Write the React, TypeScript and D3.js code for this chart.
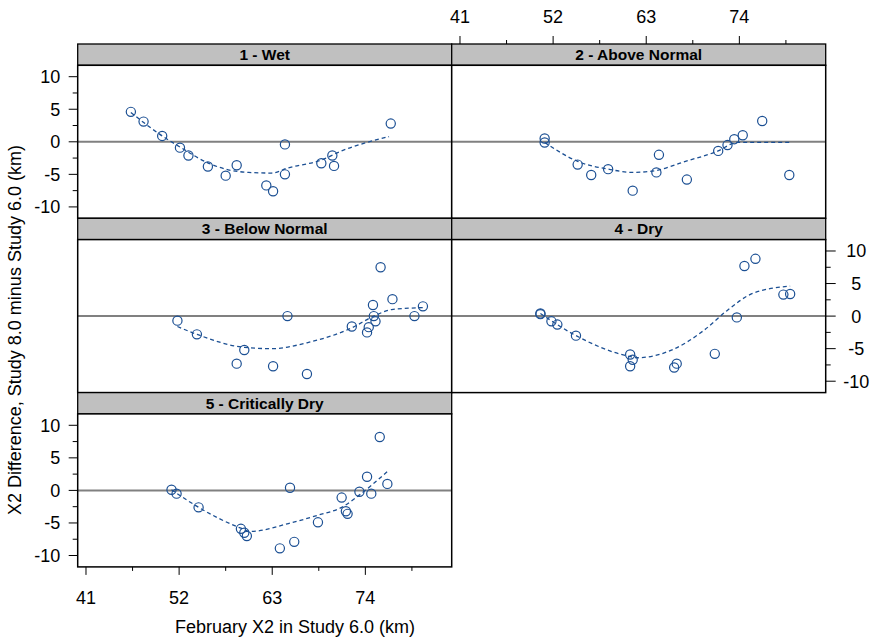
import React from "react";
import * as d3 from "d3";

const panelTitles = ["1 - Wet", "2 - Above Normal", "3 - Below Normal", "4 - Dry", "5 - Critically Dry"];

const wetX = [46.3, 47.8, 50.0, 52.1, 53.1, 55.4, 57.5, 58.8, 62.3, 63.1, 64.5, 64.5, 68.8, 70.1, 70.3, 77.0];
const wetY = [4.6, 3.1, 0.9, -0.9, -2.1, -3.8, -5.2, -3.6, -6.7, -7.6, -0.4, -5.0, -3.3, -2.1, -3.7, 2.8];
const wetFitX = [46.3, 50.0, 52.1, 55.5, 57.8, 60.2, 62.9, 64.9, 68.8, 71.2, 76.8];
const wetFitY = [4.5, 0.9, -0.8, -3.3, -4.3, -4.7, -4.8, -4.0, -2.8, -1.4, 0.8];

const aboveX = [51.0, 51.0, 54.9, 56.5, 58.5, 61.4, 64.2, 64.5, 67.8, 71.5, 72.6, 73.4, 74.4, 76.7, 79.9];
const aboveY = [0.5, -0.1, -3.5, -5.1, -4.2, -7.5, -4.7, -2.0, -5.8, -1.4, -0.5, 0.4, 1.0, 3.2, -5.1];
const aboveFitX = [51.0, 54.9, 58.5, 61.4, 64.2, 67.4, 71.5, 73.7, 79.9];
const aboveFitY = [-0.1, -3.0, -4.2, -4.7, -4.4, -3.1, -1.4, -0.1, -0.1];

const belowX = [51.8, 54.1, 58.8, 59.7, 63.1, 64.8, 67.1, 72.4, 74.2, 74.4, 75.0, 75.2, 74.9, 75.8, 77.2, 79.8, 80.8];
const belowY = [-0.7, -2.8, -7.3, -5.2, -7.7, 0.0, -8.9, -1.6, -2.5, -1.7, 0.0, -0.8, 1.7, 7.5, 2.6, 0.0, 1.5];
const belowFitX = [51.8, 54.1, 59.7, 63.0, 67.1, 72.4, 75.0, 77.1, 80.8];
const belowFitY = [-1.6, -2.8, -4.8, -5.0, -4.1, -1.8, 0.0, 1.0, 1.3];

const dryX = [50.5, 50.5, 51.8, 52.5, 54.7, 61.1, 61.4, 61.1, 66.3, 66.6, 71.1, 73.7, 74.6, 75.9, 79.2, 80.0];
const dryY = [0.4, 0.3, -0.8, -1.3, -3.0, -5.9, -6.7, -7.7, -7.9, -7.3, -5.8, -0.2, 7.7, 8.8, 3.3, 3.4];
const dryFitX = [50.5, 54.7, 60.7, 61.9, 66.2, 69.7, 72.5, 75.6, 80.0];
const dryFitY = [0.4, -3.0, -6.1, -6.4, -5.1, -2.3, 0.8, 3.5, 4.6];

const critX = [51.1, 51.7, 54.3, 59.3, 59.7, 60.0, 63.9, 65.1, 65.6, 68.4, 71.2, 71.7, 71.9, 73.3, 74.2, 74.7, 75.7, 76.6];
const critY = [0.1, -0.5, -2.6, -5.9, -6.5, -7.0, -8.9, 0.4, -7.9, -4.9, -1.1, -3.2, -3.6, -0.2, 2.1, -0.5, 8.2, 1.0];
const critFitX = [51.1, 54.3, 59.3, 60.4, 64.9, 68.4, 71.2, 73.2, 76.6];
const critFitY = [0.1, -2.6, -5.8, -6.3, -5.1, -3.8, -2.6, -0.8, 2.9];

const xMajorTicks = [41, 52, 63, 74];
const xMinorTicks = [46.5, 57.5, 68.5, 79.5];
const yMajorTicks = [-10, -5, 0, 5, 10];
const yMinorTicks = [-7.5, -2.5, 2.5, 7.5];

const panelsData = [
  { xs: wetX, ys: wetY, fx: wetFitX, fy: wetFitY },
  { xs: aboveX, ys: aboveY, fx: aboveFitX, fy: aboveFitY },
  { xs: belowX, ys: belowY, fx: belowFitX, fy: belowFitY },
  { xs: dryX, ys: dryY, fx: dryFitX, fy: dryFitY },
  { xs: critX, ys: critY, fx: critFitX, fy: critFitY },
];

const LEFT = 77.7;
const TOP = 44;
const PW = 374;
const STRIP = 21.3;
const PH = 153;
const ROWH = STRIP + PH;
const BLUE = "#1b4f93";
const FONT = "'Liberation Sans', Arial, sans-serif";
const FS = 18;

export default function App() {
  const x = d3.scaleLinear().domain([40.02, 84.2]).range([0, PW]);
  const y = d3.scaleLinear().domain([-11.75, 11.75]).range([PH, 0]);
  const line = d3
    .line<[number, number]>()
    .x((d) => x(d[0]))
    .y((d) => y(d[1]))
    .curve(d3.curveMonotoneX);

  const panels = panelsData.map((pd, i) => {
    const col = i % 2;
    const row = Math.floor(i / 2);
    const px = LEFT + col * PW;
    const py = TOP + row * ROWH;
    const fitPts: [number, number][] = pd.fx.map((v, k) => [v, pd.fy[k]]);
    return (
      <g key={i} transform={`translate(${px},${py})`}>
        <rect x={0} y={0} width={PW} height={STRIP} fill="#c0c0c0" stroke="#000" strokeWidth={1.3} />
        <text
          x={PW / 2}
          y={STRIP / 2 + 5.5}
          textAnchor="middle"
          fontFamily={FONT}
          fontWeight="bold"
          fontSize={15.5}
          fill="#000"
        >
          {panelTitles[i]}
        </text>
        <g transform={`translate(0,${STRIP})`}>
          <rect x={0} y={0} width={PW} height={PH} fill="#fff" />
          <line x1={0} x2={PW} y1={y(0)} y2={y(0)} stroke="#808080" strokeWidth={2} />
          <path d={line(fitPts) || ""} fill="none" stroke={BLUE} strokeWidth={1.3} strokeDasharray="4,3" />
          {pd.xs.map((v, k) => (
            <circle key={k} cx={x(v)} cy={y(pd.ys[k])} r={4.6} fill="none" stroke={BLUE} strokeWidth={1.2} />
          ))}
          <rect x={0} y={0} width={PW} height={PH} fill="none" stroke="#000" strokeWidth={1.5} />
          {(i === 0 || i === 4) && (
            <g>
              {yMajorTicks.map((t) => (
                <g key={t}>
                  <line x1={-9} x2={0} y1={y(t)} y2={y(t)} stroke="#000" strokeWidth={1} />
                  <text x={-17.5} y={y(t) + 6.5} textAnchor="end" fontFamily={FONT} fontSize={FS} fill="#000">
                    {t}
                  </text>
                </g>
              ))}
              {yMinorTicks.map((t) => (
                <line key={t} x1={-5} x2={0} y1={y(t)} y2={y(t)} stroke="#000" strokeWidth={1} />
              ))}
            </g>
          )}
          {i === 3 && (
            <g>
              {yMajorTicks.map((t) => (
                <g key={t}>
                  <line x1={PW} x2={PW + 10} y1={y(t)} y2={y(t)} stroke="#000" strokeWidth={1} />
                  <text x={PW + 30.5} y={y(t) + 6.5} textAnchor="middle" fontFamily={FONT} fontSize={FS} fill="#000">
                    {t}
                  </text>
                </g>
              ))}
              {yMinorTicks.map((t) => (
                <line key={t} x1={PW} x2={PW + 5} y1={y(t)} y2={y(t)} stroke="#000" strokeWidth={1} />
              ))}
            </g>
          )}
          {i === 4 && (
            <g>
              {xMajorTicks.map((t) => (
                <g key={t}>
                  <line x1={x(t)} x2={x(t)} y1={PH} y2={PH + 8} stroke="#000" strokeWidth={1} />
                  <text x={x(t)} y={PH + 37} textAnchor="middle" fontFamily={FONT} fontSize={FS} fill="#000">
                    {t}
                  </text>
                </g>
              ))}
              {xMinorTicks.map((t) => (
                <line key={t} x1={x(t)} x2={x(t)} y1={PH} y2={PH + 4} stroke="#000" strokeWidth={1} />
              ))}
            </g>
          )}
        </g>
        {i === 1 && (
          <g>
            {xMajorTicks.map((t) => (
              <g key={t}>
                <line x1={x(t)} x2={x(t)} y1={0} y2={-8} stroke="#000" strokeWidth={1} />
                <text x={x(t)} y={-21.5} textAnchor="middle" fontFamily={FONT} fontSize={FS} fill="#000">
                  {t}
                </text>
              </g>
            ))}
            {xMinorTicks.map((t) => (
              <line key={t} x1={x(t)} x2={x(t)} y1={0} y2={-4} stroke="#000" strokeWidth={1} />
            ))}
          </g>
        )}
      </g>
    );
  });

  return (
    <svg
      width={874}
      height={641}
      style={{ position: "absolute", left: 0, top: 0, background: "#fff" }}
    >
      <rect x={0} y={0} width={874} height={641} fill="#fff" />
      {panels}
      <text x={295} y={633} textAnchor="middle" fontFamily={FONT} fontSize={FS} fill="#000">
        February X2 in Study 6.0 (km)
      </text>
      <text
        transform="translate(21,330) rotate(-90)"
        textAnchor="middle"
        fontFamily={FONT}
        fontSize={FS}
        fill="#000"
      >
        X2 Difference, Study 8.0 minus Study 6.0 (km)
      </text>
    </svg>
  );
}
